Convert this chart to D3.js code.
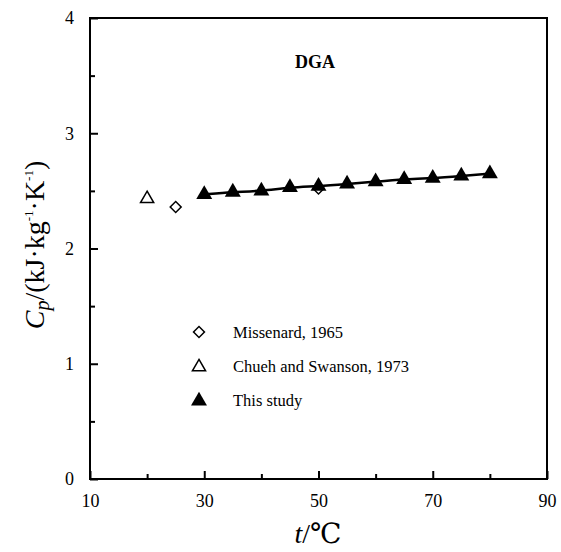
<!DOCTYPE html>
<html><head><meta charset="utf-8">
<script src="https://cdn.jsdelivr.net/npm/d3@7"></script>
<style>body{margin:0;background:#fff}svg{display:block}svg text{font-family:"Liberation Serif","Times New Roman","DejaVu Serif",serif !important;fill:#000}</style>
</head><body><div id="c"></div>
<script>
const studyT = [30,35,40,45,50,55,60,65,70,75,80];
const studyCp = [2.47,2.49,2.50,2.53,2.54,2.56,2.58,2.60,2.61,2.63,2.65];
const missT = [25,50];
const missCp = [2.36,2.52];
const chuehT = [20];
const chuehCp = [2.44];
const xTicks = [10,30,50,70,90];
const yTicks = [0,1,2,3,4];
const legendLabels = ["Missenard, 1965","Chueh and Swanson, 1973","This study"];
const title = "DGA";

const W=561,H=552, L=90,R=547,T=18,B=479;
const svg=d3.select("#c").append("svg").attr("width",W).attr("height",H);
const x=d3.scaleLinear().domain([10,90]).range([L,R]);
const y=d3.scaleLinear().domain([0,4]).range([B,T]);
const FF='"Liberation Serif","Times New Roman","DejaVu Serif",serif';

svg.append("rect").attr("x",L).attr("y",T).attr("width",R-L).attr("height",B-T)
  .attr("fill","none").attr("stroke","#000").attr("stroke-width",2);

const xa=svg.append("g").attr("transform",`translate(0,${B})`)
  .call(d3.axisBottom(x).tickValues(xTicks).tickSize(-8).tickPadding(15).tickFormat(d3.format("d")));
const xm=svg.append("g").attr("transform",`translate(0,${B})`)
  .call(d3.axisBottom(x).tickValues([20,40,60,80]).tickSize(-5).tickFormat(""));
const ya=svg.append("g").attr("transform",`translate(${L},0)`)
  .call(d3.axisLeft(y).tickValues(yTicks).tickSize(-8).tickPadding(16).tickFormat(d3.format("d")));
const ym=svg.append("g").attr("transform",`translate(${L},0)`)
  .call(d3.axisLeft(y).tickValues([0.5,1.5,2.5,3.5]).tickSize(-5).tickFormat(""));
[xa,xm,ya,ym].forEach(g=>{g.attr("font-family",FF);g.select(".domain").remove();g.selectAll("line").attr("stroke","#000").attr("stroke-width",2);
  g.selectAll("text").attr("font-size",18).style("font-family",FF);});
xa.selectAll("text").attr("dy","0.71em");

svg.append("path").datum(studyT.map((t,i)=>[t,studyCp[i]]))
  .attr("d",d3.line().x(d=>x(d[0])).y(d=>y(d[1])).curve(d3.curveBasis))
  .attr("fill","none").attr("stroke","#000").attr("stroke-width",2.5);

const tri=d3.symbol().type(d3.symbolTriangle).size(110);
const triO=d3.symbol().type(d3.symbolTriangle).size(75);
const dia=d3.symbol().type(d3.symbolSquare).size(60);

svg.selectAll(".ms").data(missT.map((t,i)=>[t,missCp[i]])).enter().append("path")
  .attr("d",dia).attr("transform",d=>`translate(${x(d[0])},${y(d[1])}) rotate(45)`)
  .attr("fill","#fff").attr("stroke","#000").attr("stroke-width",1.5);
svg.selectAll(".ch").data(chuehT.map((t,i)=>[t,chuehCp[i]])).enter().append("path")
  .attr("d",triO).attr("transform",d=>`translate(${x(d[0])},${y(d[1])+1})`)
  .attr("fill","#fff").attr("stroke","#000").attr("stroke-width",1.5);
svg.selectAll(".st").data(studyT.map((t,i)=>[t,studyCp[i]])).enter().append("path")
  .attr("d",tri).attr("transform",d=>`translate(${x(d[0])},${y(d[1])})`).attr("fill","#000");

svg.append("text").attr("x",295).attr("y",68).attr("font-size",18).attr("font-weight","bold").style("font-family",FF).text(title);

const ly=[332,366,400];
svg.append("path").attr("d",dia).attr("transform",`translate(199,${ly[0]}) rotate(45)`)
  .attr("fill","#fff").attr("stroke","#000").attr("stroke-width",1.5);
svg.append("path").attr("d",triO).attr("transform",`translate(199,${ly[1]+1})`)
  .attr("fill","#fff").attr("stroke","#000").attr("stroke-width",1.5);
svg.append("path").attr("d",tri).attr("transform",`translate(199,${ly[2]+1})`).attr("fill","#000");
legendLabels.forEach((s,i)=>svg.append("text").attr("x",233).attr("y",ly[i]+6).attr("font-size",16.5).style("font-family",FF).text(s));

const xl=svg.append("text").attr("x",318).attr("y",543).attr("text-anchor","middle").attr("font-size",28).style("font-family",FF);
xl.append("tspan").attr("font-style","italic").text("t");
xl.append("tspan").text("/\u2103");

const yl=svg.append("text").attr("transform","translate(44,245) rotate(-90)").attr("text-anchor","middle").attr("font-size",28).style("font-family",FF);
yl.append("tspan").attr("font-style","italic").text("C");
yl.append("tspan").attr("font-style","italic").attr("font-size",20).attr("dy",5).text("p");
yl.append("tspan").attr("dy",-5).text("/(kJ\u00b7kg");
yl.append("tspan").attr("font-size",13).attr("dy",-11).text("-1");
yl.append("tspan").attr("dy",11).text("\u00b7K");
yl.append("tspan").attr("font-size",13).attr("dy",-11).text("-1");
yl.append("tspan").attr("dy",11).text(")");
</script></body></html>
